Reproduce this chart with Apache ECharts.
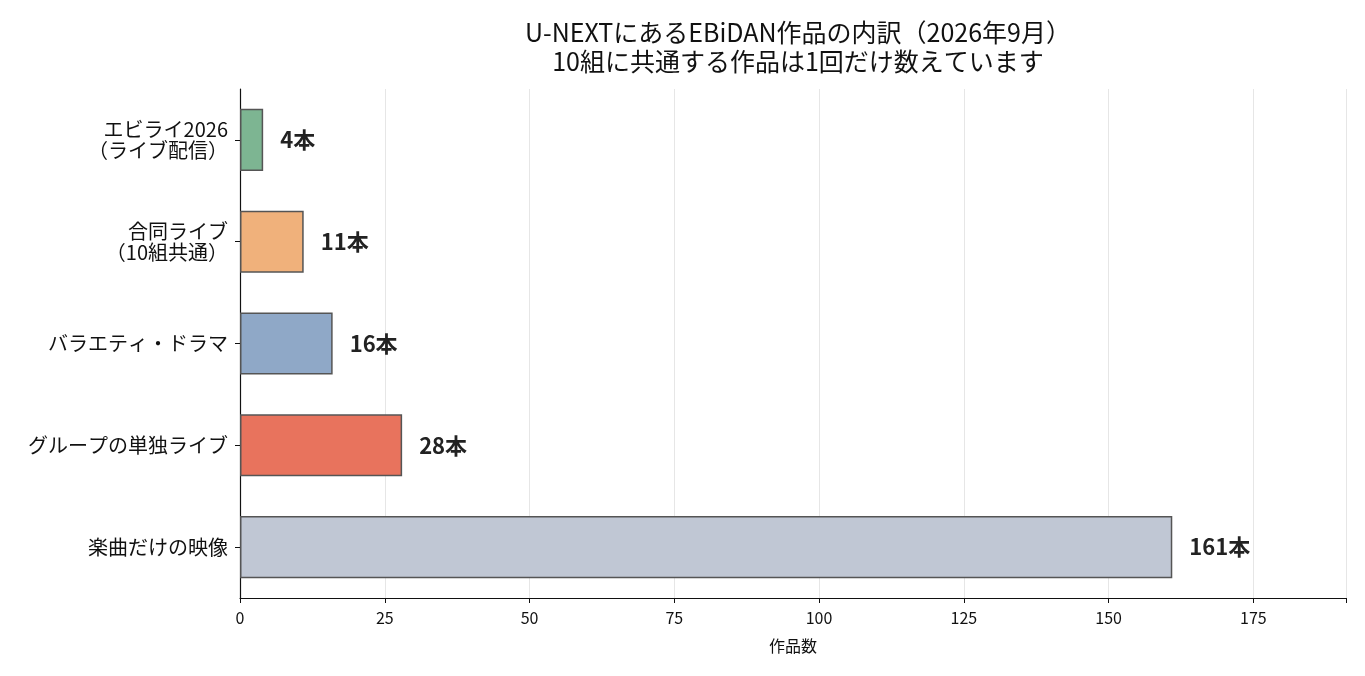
<!DOCTYPE html>
<html><head><meta charset="utf-8">
<script src="https://cdn.jsdelivr.net/npm/echarts@6/dist/echarts.min.js"></script>
<style>html,body{margin:0;padding:0;background:#fff}#c{width:1365px;height:676px}</style>
</head><body><div id="c"></div>
<script>
const categories = ['エビライ2026\n（ライブ配信）', '合同ライブ\n（10組共通）', 'バラエティ・ドラマ', 'グループの単独ライブ', '楽曲だけの映像'];
const values = [4, 11, 16, 28, 161];
const colors = ['#7db592', '#f0b17b', '#8fa8c7', '#e8735d', '#c0c7d4'];
const xTicks = [0, 25, 50, 75, 100, 125, 150, 175];
const titleLines = ['U-NEXTにあるEBiDAN作品の内訳（2026年9月）', '10組に共通する作品は1回だけ数えています'];
const xName = '作品数';
const unit = '本';

const font = '"Noto Sans CJK JP", "Noto Sans", sans-serif';
const chart = echarts.init(document.getElementById('c'));
chart.setOption({
  animation: false,
  textStyle: { fontFamily: font },
  title: {
    text: titleLines.join('\n'),
    left: 793, textAlign: 'center', top: 13,
    textStyle: { fontFamily: font, fontSize: 25, fontWeight: 'normal', color: '#111', lineHeight: 29 }
  },
  grid: { left: 240, right: 19, top: 89, bottom: 78, containLabel: false },
  xAxis: {
    type: 'value', min: 0, max: 191, interval: 25,
    name: xName, nameLocation: 'middle', nameGap: 40,
    nameTextStyle: { fontFamily: font, fontSize: 16, color: '#111' },
    axisLine: { show: true, lineStyle: { color: '#111', width: 1.2 } },
    axisTick: { show: true, length: 5, lineStyle: { color: '#111' } },
    axisLabel: { fontFamily: font, fontSize: 16, color: '#111', margin: 12,
      formatter: v => xTicks.includes(v) ? String(v) : '' },
    splitLine: { show: true, lineStyle: { color: '#e6e6e6', width: 1 } }
  },
  yAxis: {
    type: 'category', data: categories, inverse: true,
    axisLine: { show: true, lineStyle: { color: '#111', width: 1.2 } },
    axisTick: { show: true, alignWithLabel: true, length: 5, lineStyle: { color: '#111' } },
    axisLabel: { fontFamily: font, fontSize: 20, color: '#111', margin: 12, align: 'right', lineHeight: 21 },
    splitLine: { show: false }
  },
  series: [{
    type: 'bar',
    data: values.map((v, i) => ({ value: v, itemStyle: { color: colors[i] } })),
    barCategoryGap: '39%',
    itemStyle: { borderColor: '#555', borderWidth: 1.5 },
    label: {
      show: true, position: 'right', distance: 17,
      formatter: p => p.value + unit,
      fontFamily: font, fontSize: 22, fontWeight: 'bold', color: '#222'
    }
  }]
});
</script></body></html>
